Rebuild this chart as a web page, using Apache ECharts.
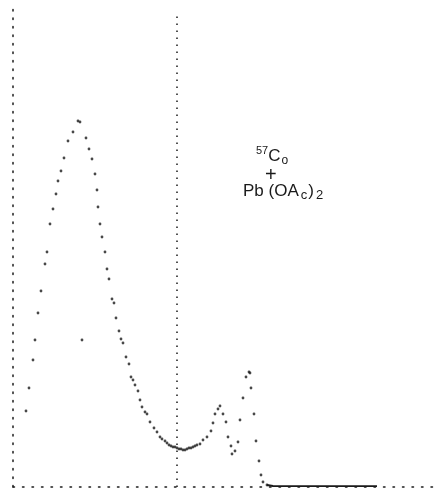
<!DOCTYPE html>
<html>
<head>
<meta charset="utf-8">
<script src="https://cdn.jsdelivr.net/npm/echarts@6/dist/echarts.min.js"></script>
<style>
html,body{margin:0;padding:0;background:#fff;}
#c{width:445px;height:494px;}
</style>
</head>
<body>
<div id="c"></div>
<script>
// Spectrum (channel, counts in arbitrary units)
const channels = [13,16,20,22,25,28,32,34,37,40,43,45,48,51,55,60,65,67,73,76,79,82,84,85,87,89,92,94,96,99,101,103,106,108,110,113,116,118,120,122,125,127,129,132,134,137,141,144,147,149,152,154,156,158,160,162,164,166,168,170,172,174,176,178,180,182,184,187,190,194,198,200,202,205,207,210,213,215,218,219,222,225,227,230,233,236,237,238,241,243,246,248,250,254,69];
const counts   = [76,99,127,147,174,196,223,235,263,278,293,306,316,329,346,355,366,365,349,338,328,313,297,280,263,250,235,218,208,188,184,169,156,148,144,130,123,110,107,102,96,87,80,75,73,65,59,55,50,48,46,44,42,41,40,40,39,38,38,37,37,38,39,39,40,41,42,43,47,50,56,64,73,78,81,73,65,50,41,33,36,45,67,89,110,115,114,99,73,46,26,12,5,2,147];
// flat zero-count tail (channel, counts)
const tailChannels = [254,260,364];
const tailCounts   = [2,1,0.8];
// marker channel (dotted vertical line)
const markerChannel = 164;
const markerTop = 473;
// label
const labelIsotope = ['57','C','o'];
const labelPlus = '+';
const labelCompound = ['Pb (OA','c',')','2'];

const points = channels.map((c,i)=>[c,counts[i]]);
const tail = tailChannels.map((c,i)=>[c,tailCounts[i]]);

const chart = echarts.init(document.getElementById('c'));
const ink = '#1a1a1a';
const font = 'Liberation Sans, Arial, sans-serif';
chart.setOption({
  animation:false,
  backgroundColor:'#fff',
  grid:{left:13,right:5,top:7,bottom:7},
  xAxis:{type:'value',min:0,max:427,
    axisLine:{show:true,onZero:false,lineStyle:{color:ink,width:1.5,type:[1.5,8]}},
    axisTick:{show:false},axisLabel:{show:false},splitLine:{show:false}},
  yAxis:{type:'value',min:0,max:480,
    axisLine:{show:true,onZero:false,lineStyle:{color:ink,width:1.5,type:[1.5,7]}},
    axisTick:{show:false},axisLabel:{show:false},splitLine:{show:false}},
  series:[
    {type:'scatter',data:points,symbol:'circle',symbolSize:2.8,
     itemStyle:{color:ink},silent:true,
     markLine:{silent:true,symbol:['none','none'],label:{show:false},
       lineStyle:{color:ink,width:1.5,type:[1.5,5.5]},
       data:[[{coord:[markerChannel,0]},{coord:[markerChannel,markerTop]}]]}},
    {type:'line',data:tail,showSymbol:false,silent:true,
     lineStyle:{color:ink,width:1.8}}
  ],
  graphic:[
    {type:'text',left:256,top:145,silent:true,style:{
      text:'{sup|'+labelIsotope[0]+'}{n|'+labelIsotope[1]+'}{sub|'+labelIsotope[2]+'}',
      fill:ink,font:'16px '+font,
      rich:{
        sup:{font:'11px '+font,fill:ink,lineHeight:10,verticalAlign:'top'},
        n:{font:'17px '+font,fill:ink,lineHeight:22},
        sub:{font:'12px '+font,fill:ink,lineHeight:10,verticalAlign:'bottom',padding:[0,0,0,1]}
      }}},
    {type:'text',left:265,top:165,silent:true,style:{text:labelPlus,fill:ink,font:'20px '+font}},
    {type:'text',left:243,top:183,silent:true,style:{
      text:'{n|'+labelCompound[0]+'}{sub|'+labelCompound[1]+'}{n|'+labelCompound[2]+'}{sub|'+labelCompound[3]+'}',
      fill:ink,font:'17px '+font,
      rich:{
        n:{font:'17px '+font,fill:ink,lineHeight:20},
        sub:{font:'13px '+font,fill:ink,lineHeight:10,verticalAlign:'bottom',padding:[0,1,0,2]}
      }}}
  ]
});
</script>
</body>
</html>
